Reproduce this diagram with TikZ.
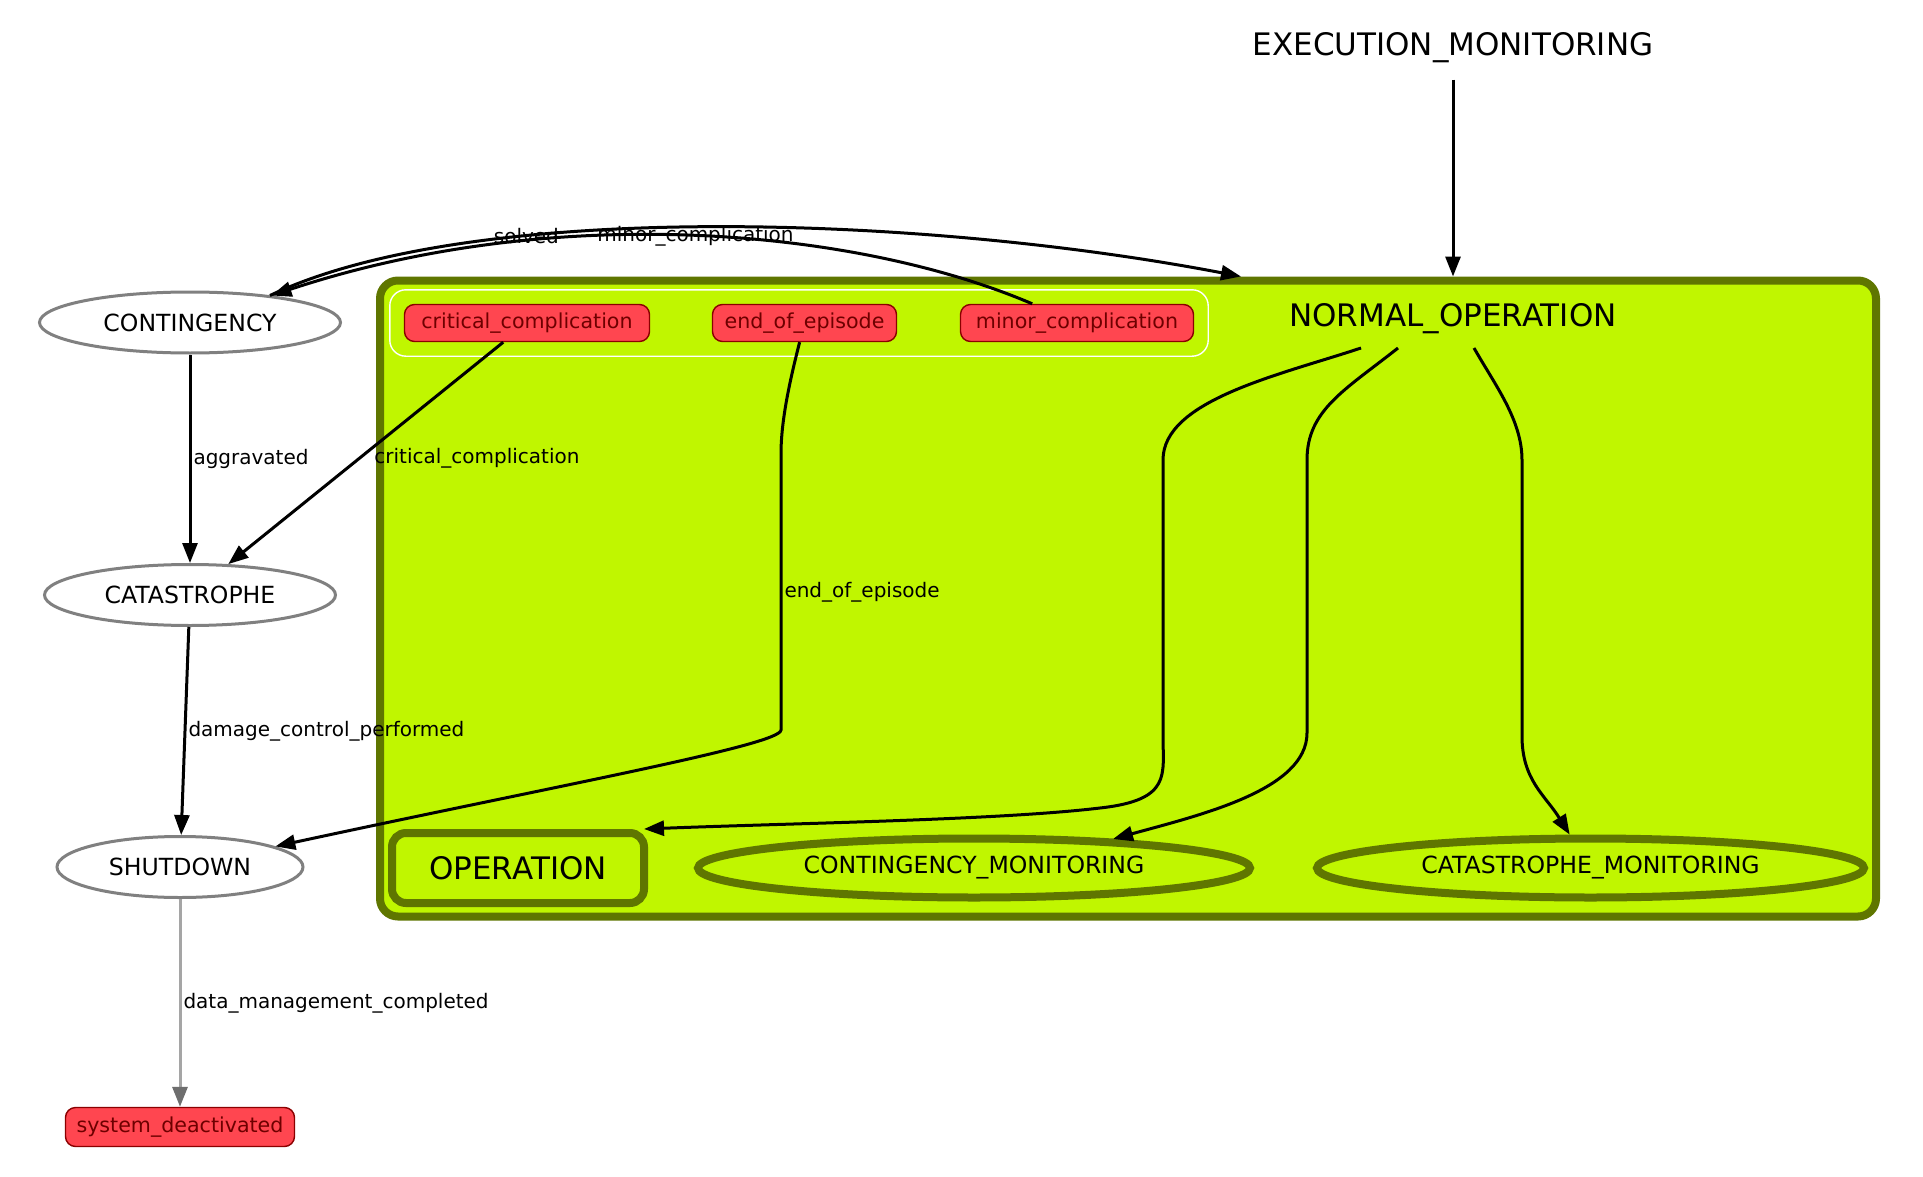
\documentclass[tikz,border=0pt]{standalone}
\usepackage{fontspec}
\setmainfont{DejaVu Sans}
\usetikzlibrary{arrows.meta, shapes.geometric, fit}

\definecolor{clfill}{RGB}{192,246,0}
\definecolor{clborder}{RGB}{95,118,0}
\definecolor{evfill}{RGB}{255,70,80}
\definecolor{evborder}{RGB}{139,0,0}
\definecolor{evtext}{RGB}{110,0,0}
\definecolor{stategray}{RGB}{128,128,128}
\definecolor{edgegray}{RGB}{165,165,165}
\definecolor{headgray}{RGB}{110,110,110}

\begin{document}
\begin{tikzpicture}[x = 0.5pt, y = -0.5pt,
		state/.style = {ellipse, draw = stategray, line width = 1.5pt, fill = white, inner sep = 0pt, minimum height = 30.5pt, font = \fontsize{11.8}{14}\selectfont},
		event/.style = {rectangle, rounded corners = 5pt, draw = evborder, line width = 0.7pt, fill = evfill, text = evtext, minimum height = 18.5pt, inner sep = 0pt, font = \fontsize{10.3}{12}\selectfont},
		cluster/.style = {rectangle, rounded corners = 9pt, draw = clborder, line width = 4pt, fill = clfill},
		substate/.style = {rectangle, rounded corners = 7pt, draw = clborder, line width = 4pt, font = \fontsize{15.5}{18}\selectfont},
		submon/.style = {ellipse, draw = clborder, line width = 4pt, minimum height = 29.5pt, inner sep = 0pt, font = \fontsize{11.8}{14}\selectfont},
		bigtext/.style = {inner sep = 0pt, font = \fontsize{15.5}{18}\selectfont},
		elabel/.style = {inner sep = 1pt, font = \fontsize{10}{12}\selectfont},
		trans/.style = {line width = 1.5pt, -{Triangle[length = 10pt, width = 7.5pt]}},
		grayedge/.style = {line width = 1.5pt, draw = edgegray, -{Triangle[length = 10pt, width = 7.5pt, color = headgray]}}]
		\path[use as bounding box, fill = white] (0, 0) rectangle (1923, 1177);
		%%%%%%%%%%%%%
		\node[cluster, minimum width = 748pt, minimum height = 318pt] (normalop) at (1128, 598.5) {};
		\node[bigtext] (execmon) at (1453, 48) {EXECUTION\_MONITORING};
		\node[bigtext] (nolabel) at (1453, 319) {NORMAL\_OPERATION};
		%%%%%%%%%%%%%
		\node[event, minimum width = 122.5pt] (crit) at (527, 323) {critical\_complication};
		\node[event, minimum width = 92pt] (eoe) at (804.5, 323) {end\_of\_episode};
		\node[event, minimum width = 116.5pt] (minor) at (1077, 323) {minor\_complication};
		\node[draw = white, line width = 0.7pt, rounded corners = 8pt, inner xsep = 7pt, inner ysep = 7pt, fit = (crit) (eoe) (minor)] (evbox) {};
		%%%%%%%%%%%%%
		\node[substate, minimum width = 126pt, minimum height = 35pt] (operation) at (518, 868) {OPERATION};
		\node[submon, minimum width = 276pt] (contmon) at (974, 868) {CONTINGENCY\_MONITORING};
		\node[submon, minimum width = 273.5pt] (catmon) at (1590.5, 868) {CATASTROPHE\_MONITORING};
		%%%%%%%%%%%%%
		\node[state, minimum width = 150.5pt] (contingency) at (190, 322.5) {CONTINGENCY};
		\node[state, minimum width = 145.5pt] (catastrophe) at (190, 595) {CATASTROPHE};
		\node[state, minimum width = 123pt] (shutdown) at (180, 867) {SHUTDOWN};
		\node[event, minimum width = 114.5pt, minimum height = 19.5pt] (deact) at (180, 1127) {system\_deactivated};
		%%%%%%%%%%%%%
		\draw[trans, shorten <= 8pt] (execmon) to (execmon |- normalop.north);
		\draw[trans] ([shift = {(80, -27)}]contingency.center) .. controls (470, 200) and (920, 215) .. ([xshift = 56.5pt]normalop.north) node[elabel, pos = 0.32] {solved};
		\draw[trans] (minor) .. controls (860, 230) and (560, 200) .. (contingency) node[elabel, pos = 0.5] {minor\_complication};
		\draw[trans] (contingency) to node[elabel, anchor = west] {aggravated} (catastrophe);
		\draw[trans] (crit) to node[elabel, pos = 0.525, anchor = west, xshift = 6pt] {critical\_complication} (catastrophe);
		\draw[trans] (catastrophe) to node[elabel, anchor = west] {damage\_control\_performed} (shutdown);
		\draw[grayedge] (shutdown) to node[elabel, anchor = west] {data\_management\_completed} (deact);
		\draw[trans] (eoe) .. controls (790, 380) and (781, 420) .. (781, 454) -- (781, 730) node[elabel, midway, anchor = west] {end\_of\_episode} .. controls (781, 745) and (560, 785) .. (shutdown);
		%%%%%%%%%%%%%
		\draw[trans] ([xshift = -46pt, yshift = -14.5pt]nolabel.center) .. controls (1280, 375) and (1163, 400) .. (1163, 460) -- (1163, 736) .. controls (1163, 775) and (1172, 800) .. (1100, 808) .. controls (1000, 820) and (800, 823) .. ([xshift = -2pt]operation.north east);
		\draw[trans] ([xshift = -27.5pt, yshift = -14.5pt]nolabel.center) .. controls (1345, 390) and (1307, 410) .. (1307, 460) -- (1307, 733) .. controls (1307, 790) and (1200, 815) .. ([shift = {(139, -29)}]contmon.center);
		\draw[trans] ([xshift = 10.5pt, yshift = -14.5pt]nolabel.center) .. controls (1495, 385) and (1522, 420) .. (1522, 460) -- (1522, 736) .. controls (1522, 780) and (1545, 795) .. (catmon);
\end{tikzpicture}
\end{document}
